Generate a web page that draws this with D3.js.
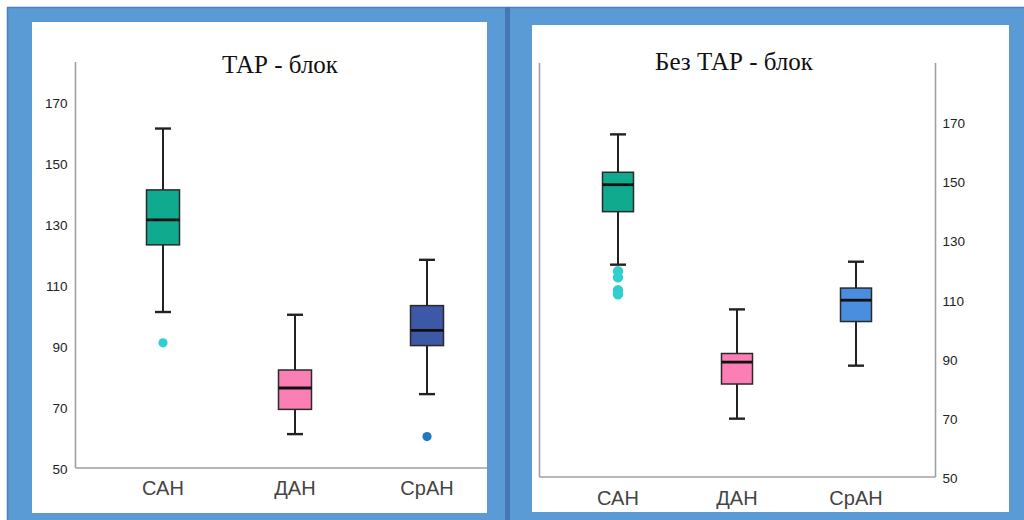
<!DOCTYPE html>
<html>
<head>
<meta charset="utf-8">
<script src="https://cdn.jsdelivr.net/npm/d3@7"></script>
<style>
  html, body { margin: 0; padding: 0; background: #ffffff; }
  svg { display: block; }
</style>
</head>
<body>
<svg id="chart" width="1024" height="520"></svg>
<script>
// Categories and tick values shared by both panels
const categories = ["САН", "ДАН", "СрАН"];
const yTicks = [50, 70, 90, 110, 130, 150, 170];

// Panel 1: "ТАР - блок" — box-plot statistics per category
const tarLow    = [101.1, 61.1, 74.2];
const tarQ1     = [123.1, 69.2, 90.1];
const tarMedian = [131.3, 76.2, 95.1];
const tarQ3     = [141.1, 82.1, 103.2];
const tarHigh   = [161.2, 100.2, 118.2];
const tarOutliers = [[91.0], [], [60.3]];

// Panel 2: "Без ТАР - блок"
const noTarLow    = [121.7, 69.7, 87.6];
const noTarQ1     = [139.6, 81.4, 102.5];
const noTarMedian = [148.7, 88.8, 109.7];
const noTarQ3     = [152.9, 91.7, 113.8];
const noTarHigh   = [165.7, 106.6, 122.7];
const noTarOutliers = [[119.5, 117.4, 113.1, 111.7], [], []];

const boxFill1 = ["#10ab8f", "#fb7fb5", "#3e58a8"];
const boxFill2 = ["#10ab8f", "#fb7fb5", "#4a8ee0"];
const outlierFill1 = ["#2fcfd0", "#fb7fb5", "#1f78c0"];
const outlierFill2 = ["#2fcfd0", "#fb7fb5", "#4a8ee0"];

const svg = d3.select("#chart");

// Blue frame and panel backgrounds
svg.append("rect").attr("x", 7).attr("y", 7).attr("width", 1017).attr("height", 513)
  .attr("fill", "#5b9bd5");
svg.append("line").attr("x1", 7).attr("x2", 1024).attr("y1", 7.5).attr("y2", 7.5)
  .attr("stroke", "#4a80bf").attr("stroke-width", 1.5);
svg.append("line").attr("x1", 7.5).attr("x2", 7.5).attr("y1", 7).attr("y2", 520)
  .attr("stroke", "#4a80bf").attr("stroke-width", 1.5);
svg.append("rect").attr("x", 505).attr("y", 7).attr("width", 5).attr("height", 513)
  .attr("fill", "#4676b5");
svg.append("rect").attr("x", 32).attr("y", 22).attr("width", 455).attr("height", 491)
  .attr("fill", "#ffffff");
svg.append("rect").attr("x", 532).attr("y", 25).attr("width", 477).attr("height", 487)
  .attr("fill", "#ffffff");

function drawPanel(cfg) {
  const g = svg.append("g");
  const x = d3.scalePoint().domain(categories).range(cfg.xRange).padding(0.5);
  const y = d3.scaleLinear().domain(cfg.yDomain).range(cfg.yRange);
  const y0 = cfg.yRange[0], yTop = cfg.yRange[1];

  // Axis frame lines
  const axisColor = "#a0a0a0";
  g.append("line").attr("x1", cfg.axisLeftX).attr("x2", cfg.axisLeftX)
    .attr("y1", yTop).attr("y2", y0).attr("stroke", axisColor).attr("stroke-width", 1.6);
  g.append("line").attr("x1", cfg.axisLeftX).attr("x2", cfg.baselineEnd)
    .attr("y1", y0).attr("y2", y0).attr("stroke", axisColor).attr("stroke-width", 1.6);
  if (cfg.axisRightX) {
    g.append("line").attr("x1", cfg.axisRightX).attr("x2", cfg.axisRightX)
      .attr("y1", yTop).attr("y2", y0).attr("stroke", axisColor).attr("stroke-width", 1.6);
  }

  // Value axis (labels only)
  const axis = (cfg.labelsRight ? d3.axisRight(y) : d3.axisLeft(y))
    .tickValues(yTicks).tickSize(0).tickPadding(cfg.tickPad);
  const ag = g.append("g")
    .attr("transform", `translate(${cfg.labelsRight ? cfg.axisRightX : cfg.axisLeftX},${cfg.tickShift})`)
    .call(axis);
  ag.select(".domain").remove();
  ag.selectAll("text")
    .attr("font-family", "Liberation Sans, Arial, sans-serif")
    .attr("font-size", 13.5).attr("fill", "#222");

  // Category labels
  g.selectAll(".cat").data(categories).enter().append("text")
    .attr("x", d => x(d)).attr("y", cfg.catY)
    .attr("text-anchor", "middle")
    .attr("font-family", "Liberation Sans, Arial, sans-serif")
    .attr("font-size", 20).attr("fill", "#444")
    .text(d => d);

  // Title
  g.append("text").attr("x", cfg.titleX).attr("y", cfg.titleY)
    .attr("text-anchor", "middle")
    .attr("font-family", "Liberation Serif, Times New Roman, serif")
    .attr("font-size", 25).attr("fill", "#111")
    .text(cfg.title);

  const bw = cfg.boxWidth, cw = 16;
  categories.forEach((c, i) => {
    const cx = x(c);
    // whisker stem
    g.append("line").attr("x1", cx).attr("x2", cx)
      .attr("y1", y(cfg.high[i])).attr("y2", y(cfg.low[i]))
      .attr("stroke", "#222").attr("stroke-width", 2);
    // caps
    [cfg.high[i], cfg.low[i]].forEach(v => {
      g.append("line").attr("x1", cx - cw / 2).attr("x2", cx + cw / 2)
        .attr("y1", y(v)).attr("y2", y(v))
        .attr("stroke", "#222").attr("stroke-width", 2.4);
    });
    // box
    g.append("rect").attr("x", cx - bw / 2).attr("y", y(cfg.q3[i]))
      .attr("width", bw).attr("height", y(cfg.q1[i]) - y(cfg.q3[i]))
      .attr("fill", cfg.fills[i]).attr("stroke", "#2a2a2a").attr("stroke-width", 1.5);
    // median
    g.append("line").attr("x1", cx - bw / 2).attr("x2", cx + bw / 2)
      .attr("y1", y(cfg.median[i])).attr("y2", y(cfg.median[i]))
      .attr("stroke", "#111").attr("stroke-width", 2.8);
    // outliers
    g.selectAll(null).data(cfg.outliers[i]).enter().append("circle")
      .attr("cx", cx).attr("cy", v => y(v)).attr("r", cfg.dotR)
      .attr("fill", cfg.outlierFills[i]);
  });
}

drawPanel({
  title: "ТАР - блок", titleX: 280, titleY: 73,
  xRange: [97, 493], yDomain: [50, 183], yRange: [468, 62],
  axisLeftX: 75.5, baselineEnd: 487, labelsRight: false, tickPad: 8, tickShift: 1,
  catY: 495, boxWidth: 33, dotR: 4.6,
  low: tarLow, q1: tarQ1, median: tarMedian, q3: tarQ3, high: tarHigh,
  outliers: tarOutliers, fills: boxFill1, outlierFills: outlierFill1
});

drawPanel({
  title: "Без ТАР - блок", titleX: 734, titleY: 70,
  xRange: [558.5, 915.5], yDomain: [50, 189.8], yRange: [477, 63],
  axisLeftX: 539.5, axisRightX: 935.5, baselineEnd: 935.5, labelsRight: true, tickPad: 7, tickShift: 1.5,
  catY: 505, boxWidth: 31, dotR: 5.2,
  low: noTarLow, q1: noTarQ1, median: noTarMedian, q3: noTarQ3, high: noTarHigh,
  outliers: noTarOutliers, fills: boxFill2, outlierFills: outlierFill2
});
</script>
</body>
</html>
